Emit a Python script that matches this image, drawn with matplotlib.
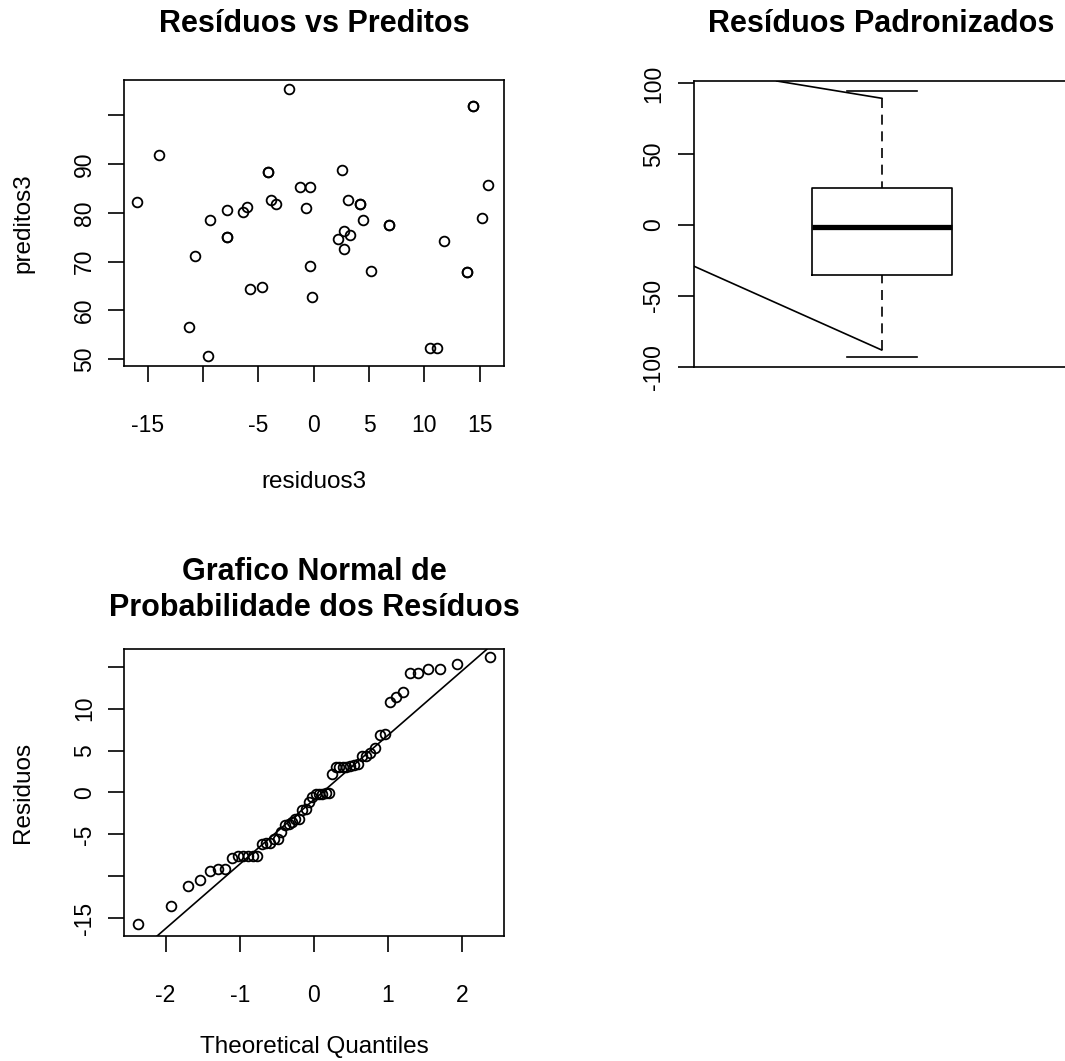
import numpy as np
import matplotlib
matplotlib.use("Agg")
import matplotlib.pyplot as plt
from statistics import NormalDist

plt.rcParams["font.family"] = ["Liberation Sans", "DejaVu Sans"]
plt.rcParams["axes.unicode_minus"] = False

# --- dados ---
# residuos vs preditos (pontos repetidos aparecem em negrito no original)
residuos3 = [-2.28, 14.40, 14.40, -13.95, -15.99, -4.18, -4.18, 2.57, -1.28, -0.38,
             15.75, -7.83, -6.41, -6.05, -3.88, -3.45, -0.74, 3.09, 4.14, 4.14,
             -9.42, 4.44, 15.24, 6.77, 6.77, -7.83, -7.83, 2.75, 3.30, 2.21,
             2.75, 11.80, -10.75, -0.38, 5.20, 13.85, 13.85, -5.75, -4.69, -0.20,
             -11.32, -9.57, 10.54, 11.11]
preditos3 = [105.40, 101.85, 101.85, 91.93, 82.15, 88.44, 88.44, 88.85, 85.29, 85.29,
             85.70, 80.57, 80.10, 81.12, 82.56, 81.74, 81.05, 82.56, 81.74, 81.74,
             78.52, 78.59, 79.00, 77.43, 77.43, 75.10, 75.10, 76.20, 75.44, 74.62,
             72.64, 74.21, 71.07, 69.02, 67.99, 67.92, 67.92, 64.36, 64.77, 62.79,
             56.50, 50.68, 52.26, 52.26]

# residuos ordenados do grafico normal
residuos_qq = [-15.73, -13.51, -11.19, -10.48, -9.38, -9.12, -9.12, -7.76, -7.56, -7.56,
               -7.56, -7.56, -7.56, -6.20, -5.99, -5.99, -5.54, -5.54, -4.68, -3.83,
               -3.78, -3.47, -3.22, -3.17, -2.06, -2.01, -1.15, -0.50, -0.22, -0.18,
               -0.15, -0.10, -0.01, 2.24, 3.03, 3.03, 3.05, 3.08, 3.18, 3.31,
               3.39, 4.31, 4.39, 4.71, 5.34, 6.90, 6.92, 10.80, 11.42, 11.95,
               14.21, 14.23, 14.69, 14.71, 15.36, 16.13]

# boxplot dos residuos padronizados
q1, mediana, q3 = -35.3, -1.2, 25.9
bigodes = [-88.3, 89.5]
hastes = [-93.4, 94.9]
linha_inf_x, linha_inf_y = [-0.0754, 1.0], [-28.95, -88.3]
linha_sup_x, linha_sup_y = [0.40, 1.0], [101.7, 89.5]

W, H = 1065, 1061
fig = plt.figure(figsize=(W / 100, H / 100), dpi=100, facecolor="white")


def eixo(l, t, r, b):
    return fig.add_axes([l / W, 1 - b / H, (r - l) / W, (b - t) / H])


def estilo(ax, xpad=23, ypad=9.0):
    for sp in ax.spines.values():
        sp.set_linewidth(1.2)
    ax.tick_params(direction="out", length=11.2, width=1.2, labelsize=16.5,
                   top=False, right=False)
    ax.tick_params(axis="x", pad=xpad)
    ax.tick_params(axis="y", pad=ypad, labelrotation=90)
    for lb in ax.get_yticklabels():
        lb.set_verticalalignment("center")


def rotulos(vals, ocultos=()):
    return ["" if v in ocultos else f"{v:g}" for v in vals]


def txt(x, y, s, **kw):
    fig.text(x / W, 1 - y / H, s, **kw)


ttl = dict(fontsize=22, fontweight="bold", ha="center", va="baseline")
lab = dict(fontsize=17.5, ha="center")
mk = dict(marker="o", ls="none", mfc="none", mec="black", ms=7, mew=1.3)

# --- residuos vs preditos ---
ax1 = eixo(124.3, 80, 504.3, 366)
ax1.plot(residuos3, preditos3, **mk)
ax1.set_xlim(-17.13, 17.23)
ax1.set_ylim(48.56, 107.26)
xt = [-15, -10, -5, 0, 5, 10, 15]
yt = [50, 60, 70, 80, 90, 100]
ax1.set_xticks(xt, rotulos(xt, (-10,)))
ax1.set_yticks(yt, rotulos(yt, (100,)))
estilo(ax1)
txt(314.3, 32, "Resíduos vs Preditos", **ttl)
txt(314.3, 488, "residuos3", va="baseline", **lab)
txt(23, 223, "preditos3", rotation=90, va="center", **lab)

# --- boxplot ---
ax2 = eixo(693.5, 81, 1069, 366.7)
ax2.bxp([dict(med=mediana, q1=q1, q3=q3, whislo=hastes[0], whishi=hastes[1])],
        positions=[1], widths=0.8, capwidths=0.4, showfliers=False, manage_ticks=False,
        boxprops=dict(lw=1.2, color="black"),
        medianprops=dict(lw=3.8, color="black", solid_capstyle="butt"),
        whiskerprops=dict(linestyle="none"),
        capprops=dict(lw=1.2, color="black"))
ax2.plot([1, 1], [bigodes[1], q3], color="black", lw=1.2, dashes=(6, 4))
ax2.plot([1, 1], [bigodes[0], q1], color="black", lw=1.2, dashes=(6, 4))
ax2.plot(linha_sup_x, linha_sup_y, color="black", lw=1.2)
ax2.plot(linha_inf_x, linha_inf_y, color="black", lw=1.2)
ax2.set_xlim(-0.0754, 2.070)
ax2.set_ylim(-100.07, 101.7)
bt = [-100, -50, 0, 50, 100]
ax2.set_yticks(bt, rotulos(bt))
estilo(ax2)
ax2.tick_params(axis="x", bottom=False, labelbottom=False)
txt(881.3, 32, "Resíduos Padronizados", **ttl)

# --- grafico normal ---
ax3 = eixo(124.3, 649.3, 504.3, 936)
n = len(residuos_qq)
teor = [NormalDist().inv_cdf((i + 0.5) / n) for i in range(n)]
ax3.plot(teor, sorted(residuos_qq), **mk)
yq = np.percentile(residuos_qq, [25, 75])
xq = [NormalDist().inv_cdf(0.25), NormalDist().inv_cdf(0.75)]
incl = (yq[1] - yq[0]) / (xq[1] - xq[0])
ax3.axline((0, yq[0] - incl * xq[0]), slope=incl, color="black", lw=1.2)
ax3.set_xlim(-2.556, 2.567)
ax3.set_ylim(-17.11, 17.07)
qt = [-2, -1, 0, 1, 2]
rt = [-15, -10, -5, 0, 5, 10, 15]
ax3.set_xticks(qt, rotulos(qt))
ax3.set_yticks(rt, rotulos(rt, (-10, 15)))
estilo(ax3)
txt(314.3, 616, "Grafico Normal de\nProbabilidade dos Resíduos", linespacing=1.25, **ttl)
txt(314.3, 1053, "Theoretical Quantiles", va="baseline", **lab)
txt(23, 792.7, "Residuos", rotation=90, va="center", **lab)

fig.savefig("out.png", dpi=100, facecolor="white")
